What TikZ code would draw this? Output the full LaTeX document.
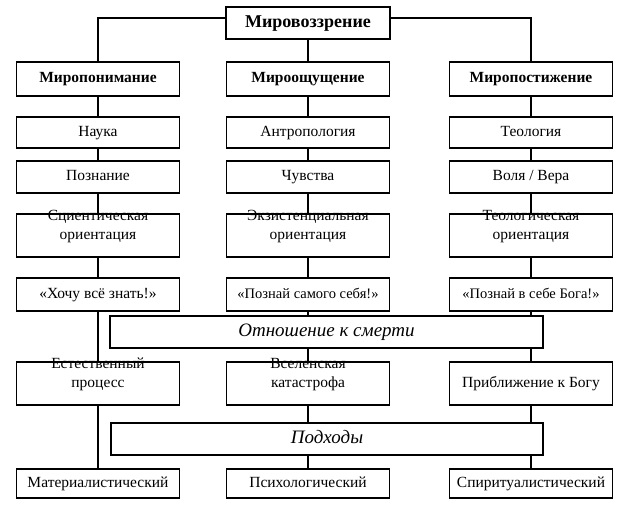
\documentclass[tikz,border=0pt]{standalone}
\usepackage{fontspec}
\setmainfont{Liberation Serif}
\begin{document}
\begin{tikzpicture}[x=1pt,y=-1pt,
  bx/.style={draw,line width=1.1pt,minimum width=163pt,align=center,inner sep=0pt,text height=11pt,text depth=3.5pt,font=\fontsize{15.5}{19}\selectfont},
  bb/.style={bx,minimum height=34pt,font=\bfseries\fontsize{15.5}{19}\selectfont},
  ln/.style={line width=1.1pt}]
\useasboundingbox (0,0) rectangle (624,511);
\node[bx,minimum width=164pt,minimum height=32pt,text height=12.5pt,text depth=4pt,font=\bfseries\fontsize{18}{20}\selectfont] (top) at (308,23) {Мировоззрение};
\node[bb] (L1) at (98,79) {Миропонимание};
\node[bb] (M1) at (308,79) {Мироощущение};
\node[bb] (R1) at (531,79) {Миропостижение};
\node[bx,minimum height=31pt] (L2) at (98,132.5) {Наука};
\node[bx,minimum height=31pt] (M2) at (308,132.5) {Антропология};
\node[bx,minimum height=31pt] (R2) at (531,132.5) {Теология};
\node[bx,minimum height=32pt] (L3) at (98,177) {Познание};
\node[bx,minimum height=32pt] (M3) at (308,177) {Чувства};
\node[bx,minimum height=32pt] (R3) at (531,177) {Воля / Вера};
\node[bx,minimum height=43pt] (L4) at (98,235.5) {Сциентическая\\ориентация};
\node[bx,minimum height=43pt] (M4) at (308,235.5) {Экзистенциальная\\ориентация};
\node[bx,minimum height=43pt] (R4) at (531,235.5) {Теологическая\\ориентация};
\node[bx,minimum height=33pt] (L5) at (98,294.5) {«Хочу всё знать!»};
\node[bx,minimum height=33pt,font=\fontsize{14.5}{17}\selectfont] (M5) at (308,294.5) {«Познай самого себя!»};
\node[bx,minimum height=33pt,font=\fontsize{14.5}{17}\selectfont] (R5) at (531,294.5) {«Познай в себе Бога!»};
\node[bx,minimum width=433pt,minimum height=32pt,text height=13pt,text depth=4pt,font=\itshape\fontsize{19}{21}\selectfont] (D) at (326.5,332) {Отношение к смерти};
\node[bx,minimum height=43pt] (L6) at (98,383.5) {Естественный\\процесс};
\node[bx,minimum height=43pt] (M6) at (308,383.5) {Вселенская\\катастрофа};
\node[bx,minimum height=43pt] (R6) at (531,383.5) {Приближение к Богу};
\node[bx,minimum width=432pt,minimum height=32pt,text height=13pt,text depth=4pt,font=\itshape\fontsize{19}{21}\selectfont] (P) at (327,439) {Подходы};
\node[bx,minimum height=29pt] (L7) at (98,483.5) {Материалистический};
\node[bx,minimum height=29pt] (M7) at (308,483.5) {Психологический};
\node[bx,minimum height=29pt] (R7) at (531,483.5) {Спиритуалистический};
\draw[ln] (top.west) ++(0,-5) -| (L1.north);
\draw[ln] (top.east) ++(0,-5) -| (R1.north);
\draw[ln] (top) -- (M1);
\foreach \c in {L,M,R}{
  \draw[ln] (\c1) -- (\c2);
  \draw[ln] (\c2) -- (\c3);
  \draw[ln] (\c3) -- (\c4);
  \draw[ln] (\c4) -- (\c5);
}
\draw[ln] (L5) -- (L6);
\draw[ln] (L6) -- (L7);
\draw[ln] (M5.south) -- (M5.south|-D.north);
\draw[ln] (R5.south) -- (R5.south|-D.north);
\draw[ln] (M6.north|-D.south) -- (M6.north);
\draw[ln] (R6.north|-D.south) -- (R6.north);
\draw[ln] (M6.south) -- (M6.south|-P.north);
\draw[ln] (R6.south) -- (R6.south|-P.north);
\draw[ln] (M7.north|-P.south) -- (M7.north);
\draw[ln] (R7.north|-P.south) -- (R7.north);
\end{tikzpicture}
\end{document}
